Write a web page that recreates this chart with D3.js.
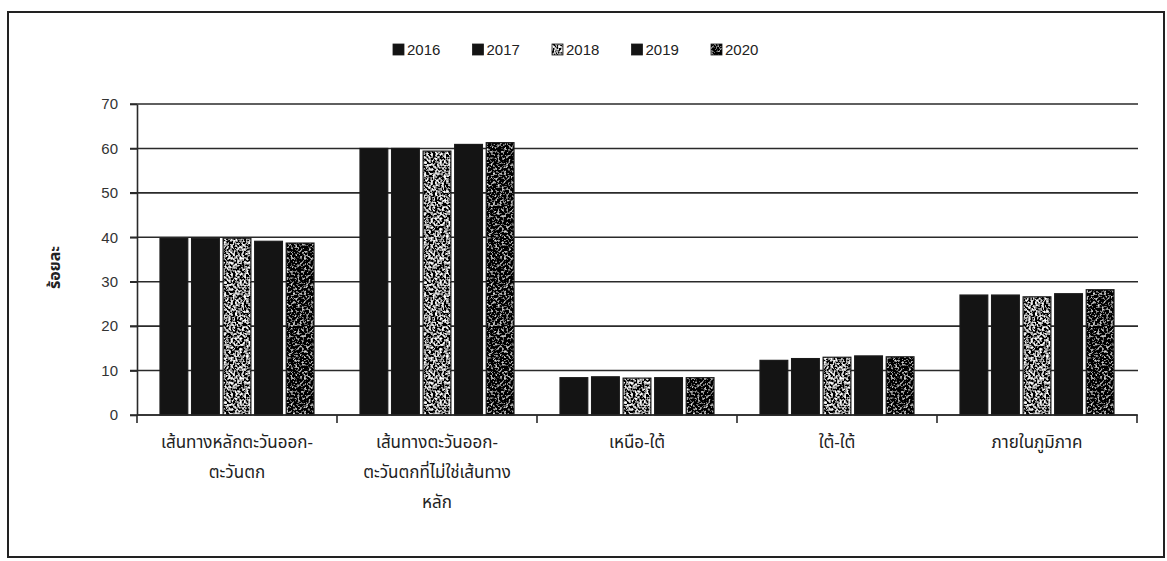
<!DOCTYPE html>
<html>
<head>
<meta charset="utf-8">
<script src="https://cdn.jsdelivr.net/npm/d3@7"></script>
<style>
  body { margin: 0; background: #fff; }
  svg { display: block; }
</style>
</head>
<body>
<svg id="chart"></svg>
<script>
// route groups (x categories), each label split into its lines
var categories = ["g1", "g2", "g3", "g4", "g5"];
var categoryLines = [
  ["เส้นทางหลักตะวันออก-", "ตะวันตก"],
  ["เส้นทางตะวันออก-", "ตะวันตกที่ไม่ใช่เส้นทาง", "หลัก"],
  ["เหนือ-ใต้"],
  ["ใต้-ใต้"],
  ["ภายในภูมิภาค"]
];
var years = ["2016", "2017", "2018", "2019", "2020"];

// percent per year, one array per year (same order as categories)
var v2016 = [39.7, 60.0, 8.4, 12.3, 27.0];
var v2017 = [39.8, 60.0, 8.6, 12.7, 27.0];
var v2018 = [39.8, 59.4, 8.3, 13.0, 26.6];
var v2019 = [39.1, 60.9, 8.4, 13.3, 27.3];
var v2020 = [38.7, 61.3, 8.4, 13.1, 28.2];
var series = [v2016, v2017, v2018, v2019, v2020];

var yTicks = [0, 10, 20, 30, 40, 50, 60, 70];
var yTitle = "ร้อยละ";

var svgWidth = 1167, svgHeight = 561;
var plot = { left: 137, right: 1137, top: 104, bottom: 415 };

var svg = d3.select("#chart")
  .attr("width", svgWidth)
  .attr("height", svgHeight);

// speckle textures for 2018 / 2020 (scanned halftone look)
var defs = svg.append("defs");
function noiseFilter(id, k, off, seed) {
  var f = defs.append("filter").attr("id", id)
    .attr("x", 0).attr("y", 0).attr("width", 1).attr("height", 1);
  f.append("feTurbulence")
    .attr("type", "fractalNoise")
    .attr("baseFrequency", 0.45)
    .attr("numOctaves", 2)
    .attr("seed", seed);
  var row = k + " 0 0 0 " + off;
  f.append("feColorMatrix")
    .attr("type", "matrix")
    .attr("values", [row, row, row, "0 0 0 0 1"].join(" "));
}
noiseFilter("noise18", 3.4, -1.45, 3);
noiseFilter("noise20", 2.6, -1.35, 7);

function pattern(id, filterId) {
  var p = defs.append("pattern").attr("id", id)
    .attr("patternUnits", "userSpaceOnUse")
    .attr("width", 120).attr("height", 120);
  p.append("rect").attr("width", 120).attr("height", 120)
    .attr("filter", "url(#" + filterId + ")");
}
pattern("p2018", "noise18");
pattern("p2020", "noise20");

var fills = { "2016": "#141414", "2017": "#141414", "2018": "url(#p2018)", "2019": "#141414", "2020": "url(#p2020)" };

// frame
svg.append("rect")
  .attr("x", 8).attr("y", 12)
  .attr("width", 1156).attr("height", 545)
  .attr("fill", "none")
  .attr("stroke", "#222")
  .attr("stroke-width", 2);

var x0 = d3.scaleBand()
  .domain(categories)
  .range([plot.left, plot.right])
  .paddingInner(0.23)
  .paddingOuter(0.115);

var x1 = d3.scaleBand()
  .domain(years)
  .range([0, x0.bandwidth()])
  .paddingInner(0.12);

var y = d3.scaleLinear()
  .domain([0, 70])
  .range([plot.bottom, plot.top]);

// gridlines
svg.append("g")
  .selectAll("line")
  .data(yTicks)
  .enter().append("line")
  .attr("x1", plot.left - 7)
  .attr("x2", plot.right + 1)
  .attr("y1", function(d) { return y(d); })
  .attr("y2", function(d) { return y(d); })
  .attr("stroke", "#2a2a2a")
  .attr("stroke-width", 1.6);

// bars
var groups = svg.append("g")
  .selectAll("g")
  .data(categories)
  .enter().append("g")
  .attr("transform", function(d) { return "translate(" + x0(d) + ",0)"; });

groups.selectAll("rect")
  .data(function(c, i) {
    return years.map(function(yr, j) { return { year: yr, value: series[j][i] }; });
  })
  .enter().append("rect")
  .attr("x", function(d) { return x1(d.year); })
  .attr("width", x1.bandwidth())
  .attr("y", function(d) { return y(d.value); })
  .attr("height", function(d) { return y(0) - y(d.value); })
  .attr("fill", function(d) { return fills[d.year]; })
  .attr("stroke", "#1a1a1a")
  .attr("stroke-width", 1.2);

// y axis
var yAxis = svg.append("g")
  .attr("transform", "translate(" + plot.left + ",0)")
  .call(d3.axisLeft(y).tickValues(yTicks).tickSize(7).tickSizeOuter(0).tickPadding(12));
yAxis.select(".domain").attr("stroke", "#2a2a2a").attr("stroke-width", 1.6);
yAxis.selectAll(".tick line").attr("stroke", "#2a2a2a").attr("stroke-width", 1.6);
yAxis.selectAll("text")
  .attr("fill", "#333")
  .style("font-family", "'Liberation Sans', Arial, sans-serif")
  .style("font-size", "15px");

// x axis baseline with boundary ticks
var step = x0.step();
var bounds = d3.range(categories.length + 1).map(function(i) { return plot.left + i * step; });
svg.append("line")
  .attr("x1", plot.left).attr("x2", plot.right)
  .attr("y1", y(0)).attr("y2", y(0))
  .attr("stroke", "#2a2a2a").attr("stroke-width", 1.6);
svg.append("g").selectAll("line")
  .data(bounds)
  .enter().append("line")
  .attr("x1", function(d) { return d; })
  .attr("x2", function(d) { return d; })
  .attr("y1", y(0)).attr("y2", y(0) + 8)
  .attr("stroke", "#2a2a2a").attr("stroke-width", 1.6);

// category labels
var thaiFont = "'Noto Sans Thai', 'Loma', 'Garuda', 'Tlwg Typo', sans-serif";
svg.append("g").selectAll("text")
  .data(categories)
  .enter().append("text")
  .attr("x", function(d) { return x0(d) + x0.bandwidth() / 2; })
  .attr("y", 448)
  .attr("text-anchor", "middle")
  .attr("fill", "#222")
  .style("font-family", thaiFont)
  .style("font-size", "17px")
  .each(function(d, i) {
    var t = d3.select(this);
    categoryLines[i].forEach(function(line, k) {
      t.append("tspan")
        .attr("x", x0(d) + x0.bandwidth() / 2)
        .attr("dy", k === 0 ? 0 : 30)
        .text(line);
    });
  });

// y title
svg.append("text")
  .attr("transform", "translate(60," + ((plot.top + plot.bottom) / 2 + 8) + ") rotate(-90)")
  .attr("text-anchor", "middle")
  .attr("fill", "#222")
  .style("font-family", thaiFont)
  .style("font-size", "16px")
  .style("font-weight", "bold")
  .text(yTitle);

// legend
var legend = svg.append("g")
  .attr("transform", "translate(393,44)");
var item = legend.selectAll("g")
  .data(years)
  .enter().append("g")
  .attr("transform", function(d, i) { return "translate(" + (i * 79.5) + ",0)"; });
item.append("rect")
  .attr("width", 11).attr("height", 11)
  .attr("fill", function(d) { return fills[d]; })
  .attr("stroke", "#1a1a1a").attr("stroke-width", 0.8);
item.append("text")
  .attr("x", 14).attr("y", 11)
  .attr("fill", "#222")
  .style("font-family", "'Liberation Sans', Arial, sans-serif")
  .style("font-size", "15px")
  .text(function(d) { return d; });
</script>
</body>
</html>
